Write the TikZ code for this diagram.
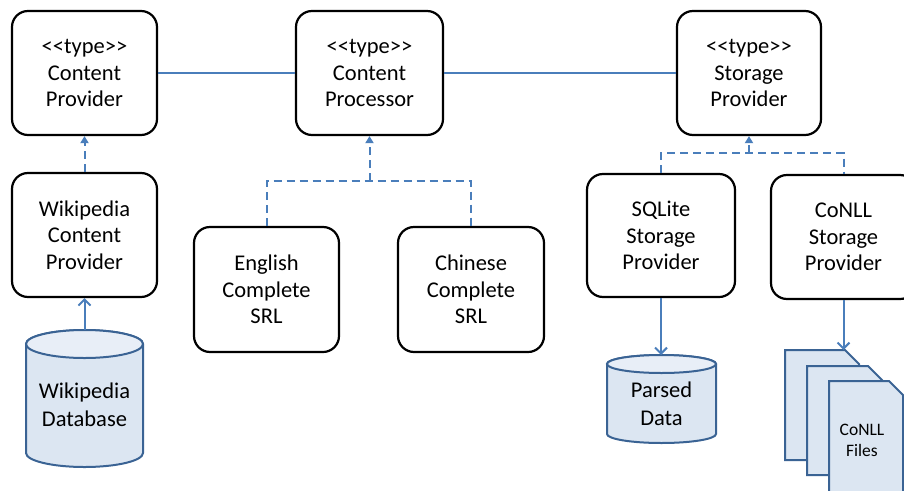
\documentclass[tikz,border=0pt]{standalone}
\usepackage{fontspec}
\setmainfont{Carlito}
\usetikzlibrary{arrows.meta}
\definecolor{linkblue}{HTML}{4A7EBB}
\definecolor{dbfill}{HTML}{DCE6F2}
\definecolor{dbtopfill}{HTML}{E8EEF7}
\definecolor{dbedge}{HTML}{3A6394}
\begin{document}
\begin{tikzpicture}[x=1pt,y=-1pt,
  umlbox/.style={draw=black, line width=2.2pt, rounded corners=16pt, fill=white, align=center,
    font=\fontsize{22.5}{26.5}\selectfont, inner sep=0pt, minimum width=145pt, minimum height=124pt},
  assoc/.style={draw=linkblue, line width=2pt},
  realize/.style={draw=linkblue, line width=2pt, dash pattern=on 8pt off 5pt},
  tipdash/.style={-{Triangle[length=7pt,width=8pt]}},
  flow/.style={draw=linkblue, line width=2pt, -{Straight Barb[length=6pt,width=12pt,line width=2pt]}},
  store/.style={draw=dbedge, line width=2pt, fill=dbfill},
  storetop/.style={draw=dbedge, line width=2pt, fill=dbtopfill},
  biglabel/.style={align=center, font=\fontsize{22.5}{28}\selectfont, inner sep=0pt},
  smalllabel/.style={align=center, font=\fontsize{17.5}{21}\selectfont, inner sep=0pt}
]
\useasboundingbox (0,0) rectangle (904,490);

% top row
\node[umlbox] (cp)   at (84.5,73)  {<\kern0pt<type>\kern0pt>\\Content\\Provider};
\node[umlbox, minimum width=147pt] (proc) at (369.5,73) {<\kern0pt<type>\kern0pt>\\Content\\Processor};
\node[umlbox, minimum width=144pt] (sp)   at (749,73)   {<\kern0pt<type>\kern0pt>\\Storage\\Provider};

% second row
\node[umlbox] (wcp)  at (84.5,235)  {Wikipedia\\Content\\Provider};
\node[umlbox, minimum height=125pt] (eng)  at (266.5,289.5) {English\\Complete\\SRL};
\node[umlbox, minimum width=146pt, minimum height=125pt] (chi)  at (471,289.5) {Chinese\\Complete\\SRL};
\node[umlbox, minimum width=148pt, minimum height=123pt] (sql)  at (661,235.5) {SQLite\\Storage\\Provider};
\node[umlbox] (conll) at (843.5,237) {CoNLL\\Storage\\Provider};

% associations
\draw[assoc] (cp.east) -- (proc.west);
\draw[assoc] (proc.east) -- (sp.west);

% realizations
\draw[realize, tipdash] (wcp.north) -- (cp.south);
\coordinate (srlbus) at (369.5,181);
\draw[realize] (eng.north) |- (srlbus) -| (chi.north);
\draw[realize, tipdash] (srlbus) -- (proc.south);
\coordinate (stbus) at (749,153);
\draw[realize] (sql.north) |- (stbus) -| (conll.north);
\draw[realize, tipdash] (stbus) -- (sp.south);

% Wikipedia database cylinder
\path[store] (26,344) -- (26,453) arc[start angle=180, end angle=0, x radius=58.5, y radius=14]
  -- (143,344) arc[start angle=0, end angle=-180, x radius=58.5, y radius=14] -- cycle;
\path[storetop] (84.5,344) ellipse[x radius=58.5, y radius=14];
\coordinate (wdbtop) at (84.5,330);
\node[biglabel] (wdb) at (84.5,405) {Wikipedia\\Database};
\draw[flow] (wdbtop) -- (wcp.south);

% Parsed data cylinder
\path[store] (607,364) -- (607,434) arc[start angle=180, end angle=0, x radius=54.5, y radius=9]
  -- (716,364) arc[start angle=0, end angle=-180, x radius=54.5, y radius=9] -- cycle;
\path[storetop] (661.5,364) ellipse[x radius=54.5, y radius=9];
\coordinate (pdtop) at (661,355);
\node[biglabel] (pd) at (661.5,404) {Parsed\\Data};
\draw[flow] (sql.south) -- (pdtop);

% CoNLL files
\path[store] (785,350) -- (845,350) -- (859,364) -- (859,460) -- (785,460) -- cycle;
\path[store] (807,366) -- (868,366) -- (882,380) -- (882,475) -- (807,475) -- cycle;
\path[store] (829,381) -- (889,381) -- (903,395) -- (903,500) -- (829,500) -- cycle;
\coordinate (docstop) at (843.5,350);
\node[smalllabel] (files) at (862,440) {CoNLL\\Files};
\draw[flow] (conll.south) -- (docstop);
\end{tikzpicture}
\end{document}
